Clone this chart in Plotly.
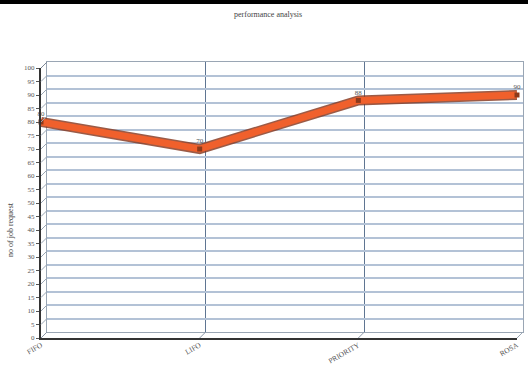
import plotly.graph_objects as go

# --- chart data ---
categories = ["FIFO", "LIFO", "PRIORITY", "ROSA"]
job_requests = [80, 70, 88, 90]
y_ticks = list(range(0, 101, 5))

W, H = 528, 365
DEPTH = 6  # pseudo-3D offset in pixels


def fx(px):
    return px / W


def fy(py):
    return 1 - py / H


# front plane (data + labels) and back wall (grid) in pixel terms
front_x = (41, 517)
front_y = (68, 338)
back_x = (front_x[0] + DEPTH, front_x[1] + DEPTH)
back_y = (front_y[0] - DEPTH, front_y[1] - DEPTH)

xi = list(range(len(categories)))
font_serif = "Liberation Serif"

fig = go.Figure()

# back wall holds the gridlines (drawn first, so it sits underneath)
fig.add_trace(go.Scatter(x=[None], y=[None], xaxis="x", yaxis="y",
                         showlegend=False, hoverinfo="skip"))

# line shadow, main line, markers and value labels on the front plane
fig.add_trace(go.Scatter(
    x=xi, y=job_requests, xaxis="x2", yaxis="y2", mode="lines",
    line=dict(color="rgba(130,50,25,0.8)", width=10),
    cliponaxis=False, showlegend=False, hoverinfo="skip"))
fig.add_trace(go.Scatter(
    x=xi, y=job_requests, xaxis="x2", yaxis="y2", mode="lines+markers+text",
    line=dict(color="#f0602c", width=7),
    marker=dict(symbol="square", size=5, color="#8c3a1c"),
    text=[str(v) for v in job_requests], textposition="top center",
    textfont=dict(family=font_serif, size=7, color="#555555"),
    cliponaxis=False, showlegend=False))

shapes = []
# dark band along the top of the page
shapes.append(dict(type="rect", xref="paper", yref="paper",
                   x0=0, x1=1, y0=fy(4), y1=1, fillcolor="black",
                   line=dict(width=0), layer="above"))
# slanted left-wall segments at each y tick
for v in y_ticks:
    shapes.append(dict(type="line", xref="paper", yref="y2",
                       ysizemode="pixel", yanchor=v, y0=0, y1=DEPTH,
                       x0=fx(front_x[0]), x1=fx(back_x[0]),
                       line=dict(color="#9aa6b4", width=1)))
# slanted floor segments at each category
for i in xi:
    shapes.append(dict(type="line", xref="x2", yref="paper",
                       xsizemode="pixel", xanchor=i, x0=0, x1=DEPTH,
                       y0=fy(front_y[1]), y1=fy(back_y[1]),
                       line=dict(color="#8a96a6", width=1)))
# top-left and bottom-right corner bevels
shapes.append(dict(type="line", xref="paper", yref="paper",
                   x0=fx(front_x[0]), y0=fy(front_y[0]),
                   x1=fx(back_x[0]), y1=fy(back_y[0]),
                   line=dict(color="#7d8796", width=1)))
shapes.append(dict(type="line", xref="paper", yref="paper",
                   x0=fx(front_x[1]), y0=fy(front_y[1]),
                   x1=fx(back_x[1]), y1=fy(back_y[1]),
                   line=dict(color="#9aa6b4", width=1)))

fig.update_layout(
    width=W, height=H,
    margin=dict(l=0, r=0, t=0, b=0, autoexpand=False),
    paper_bgcolor="white",
    plot_bgcolor="rgba(0,0,0,0)",
    shapes=shapes,
    annotations=[
        dict(text="performance analysis", xref="paper", yref="paper",
             x=fx(268), y=fy(15), xanchor="center", yanchor="middle",
             showarrow=False,
             font=dict(family=font_serif, size=8, color="#444444")),
        dict(text="no of job request", xref="paper", yref="paper",
             x=fx(10), y=fy(230), xanchor="center", yanchor="middle",
             showarrow=False, textangle=-90,
             font=dict(family=font_serif, size=8, color="#444444")),
    ],
    # back wall
    xaxis=dict(domain=[fx(back_x[0]), fx(back_x[1])], anchor="y",
               range=[0, 3], tickvals=xi, showticklabels=False,
               showgrid=True, gridcolor="#5f7592", gridwidth=1,
               zeroline=False, showline=True, mirror=True,
               linecolor="#9aa6b4", linewidth=1, fixedrange=True,
               automargin=False),
    yaxis=dict(domain=[fy(back_y[1]), fy(back_y[0])], anchor="x",
               range=[0, 100], tickvals=y_ticks, showticklabels=False,
               showgrid=True, gridcolor="#b3c2d6", gridwidth=1.5,
               zeroline=False, showline=True, mirror=True,
               linecolor="#9aa6b4", linewidth=1, fixedrange=True,
               automargin=False),
    # front plane
    xaxis2=dict(domain=[fx(front_x[0]), fx(front_x[1])], anchor="y2",
                range=[0, 3], tickvals=xi, ticktext=categories,
                tickangle=-30, showgrid=False, zeroline=False,
                showline=True, linecolor="#333333", linewidth=2,
                ticks="", ticklabelstandoff=-2,
                tickfont=dict(family=font_serif, size=7.5,
                              color="#555555"),
                fixedrange=True, automargin=False),
    yaxis2=dict(domain=[fy(front_y[1]), fy(front_y[0])], anchor="x2",
                range=[0, 100], tickvals=y_ticks, showgrid=False,
                zeroline=False, showline=True, linecolor="#333333",
                linewidth=2, ticks="outside", ticklen=3,
                tickcolor="#555555",
                tickfont=dict(family=font_serif, size=7, color="#555555"),
                fixedrange=True, automargin=False),
)

fig.write_html("out.html")
